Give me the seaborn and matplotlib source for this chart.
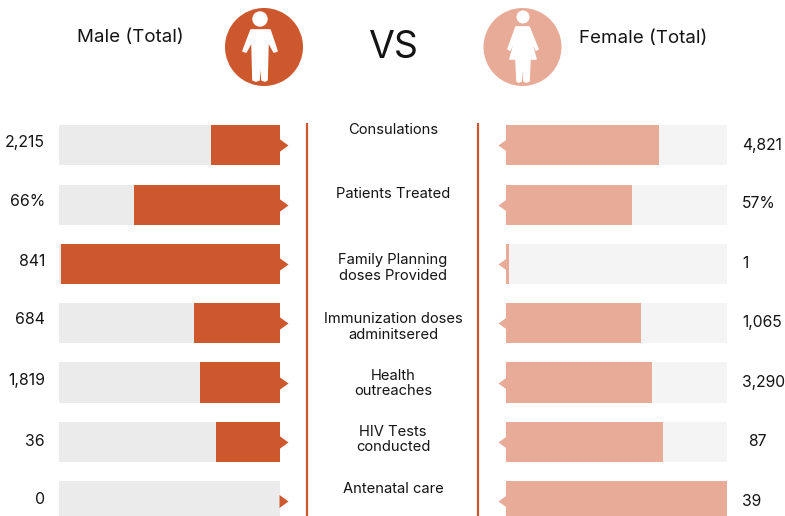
import pandas as pd
import matplotlib
matplotlib.use("Agg")
import matplotlib.pyplot as plt
from matplotlib.patches import Circle, Polygon
import seaborn as sns

# data
categories = ["Consulations", "Patients Treated", "Family Planning\ndoses Provided",
              "Immunization doses\nadminitsered", "Health\noutreaches",
              "HIV Tests\nconducted", "Antenatal care"]
male_labels = ["2,215", "66%", "841", "684", "1,819", "36", "0"]
female_labels = ["4,821", "57%", "1", "1,065", "3,290", "87", "39"]
male_share = [0.312, 0.66, 0.992, 0.39, 0.36, 0.29, 0.0]
female_share = [0.693, 0.57, 0.014, 0.61, 0.66, 0.71, 1.0]
full_track = [1, 1, 1, 1, 1, 1, 1]

MALE = "#CD582E"
FEMALE = "#E7AB98"
TEXT = "#141414"
W, H = 785, 516

sns.set_theme(style="white")
plt.rcParams['font.family'] = ['Inter', 'DejaVu Sans']

df = pd.DataFrame({"category": categories, "male": male_share, "female": female_share, "track": full_track})

fig = plt.figure(figsize=(W / 100, H / 100), dpi=100)


def bar_axes(x0, x1, value_col, track_color, bar_color, inverted):
    # rows sit 59.3px apart, first row centred on y=145
    ax = fig.add_axes([x0 / W, 0, (x1 - x0) / W, (H - 115) / H])
    sns.barplot(data=df, y="category", x="track", color=track_color, width=0.675,
                saturation=1, orient="h", linewidth=0, ax=ax)
    sns.barplot(data=df, y="category", x=value_col, color=bar_color, width=0.675,
                saturation=1, orient="h", linewidth=0, ax=ax)
    ax.set_ylim((H - 145.3) / 59.3, -30.3 / 59.3)
    ax.set_xlim((1, 0) if inverted else (0, 1))
    ax.axis("off")
    # little pointer on the inner end of each bar
    tip = 8 if inverted else -8
    back = -1 if inverted else 1
    verts = [(back, -6.5), (tip, 0), (back, 6.5)]
    ax.scatter([0] * len(categories), range(len(categories)), marker=verts, s=133,
               color=bar_color, linewidths=0, clip_on=False, zorder=5)
    return ax


bar_axes(59, 280, "male", "#EBEBEB", MALE, True)
bar_axes(506, 727, "female", "#F4F4F4", FEMALE, False)

# overlay in pixel coordinates for icons, rules and text
ov = fig.add_axes([0, 0, 1, 1], zorder=10)
ov.set_xlim(0, W)
ov.set_ylim(H, 0)
ov.axis("off")
ov.patch.set_alpha(0)

ov.plot([307, 307], [123, H], color=MALE, lw=1.6, solid_capstyle="butt")
ov.plot([478, 478], [123, H], color=MALE, lw=1.6, solid_capstyle="butt")

# male icon
ov.add_patch(Circle((264, 47), 39, color=MALE, lw=0))
ov.add_patch(Circle((260, 19), 7.7, color="white", lw=0))
male_body = [(251, 30), (270, 30), (277, 51), (274, 52), (268, 41), (267, 80), (265, 81),
             (262, 80), (260.5, 57), (259, 80), (256, 81), (253, 80), (252, 41), (246, 52), (243, 51)]
ov.add_patch(Polygon(male_body, closed=True, facecolor="white", edgecolor="white",
                     lw=1.2, joinstyle="round"))

# female icon
ov.add_patch(Circle((522.5, 47), 39, color=FEMALE, lw=0))
ov.add_patch(Circle((523, 17), 6.5, color="white", lw=0))
female_body = [(516, 27), (529, 27), (538, 49), (536, 50), (529, 34), (536, 59), (530, 59),
               (529, 81), (526, 82), (524, 81), (522.5, 60), (521, 81), (519, 82), (517, 81),
               (516, 59), (510, 59), (517, 34), (510, 50), (508, 49)]
ov.add_patch(Polygon(female_body, closed=True, facecolor="white", edgecolor="white",
                     lw=1.2, joinstyle="round"))

# headings
ov.text(130, 37.5, "Male (Total)", ha="center", va="center", fontsize=13.5, color=TEXT)
ov.text(643.5, 38.5, "Female (Total)", ha="center", va="center", fontsize=13.5, color=TEXT)
ov.text(392.5, 48, "VS", ha="center", va="center", fontsize=27, color=TEXT)

# value labels
male_y = [143, 202, 261, 320, 380, 442, 499]
female_y = [145.5, 204, 264, 323, 382, 442, 501]
female_x = [742, 742, 742, 742, 742, 748, 742]
for label, y in zip(male_labels, male_y):
    ov.text(45, y, label, ha="right", va="center", fontsize=11.4, color=TEXT)
for label, x, y in zip(female_labels, female_x, female_y):
    ov.text(x, y, label, ha="left", va="center", fontsize=11.3, color=TEXT)

# centre labels
centre_y = [130, 194, 268, 327, 383.5, 439.5, 489]
for label, y in zip(categories, centre_y):
    ov.text(393, y, label, ha="center", va="center", fontsize=10.6, color=TEXT, linespacing=1.1)

fig.savefig("out.png", dpi=100)
plt.close()
